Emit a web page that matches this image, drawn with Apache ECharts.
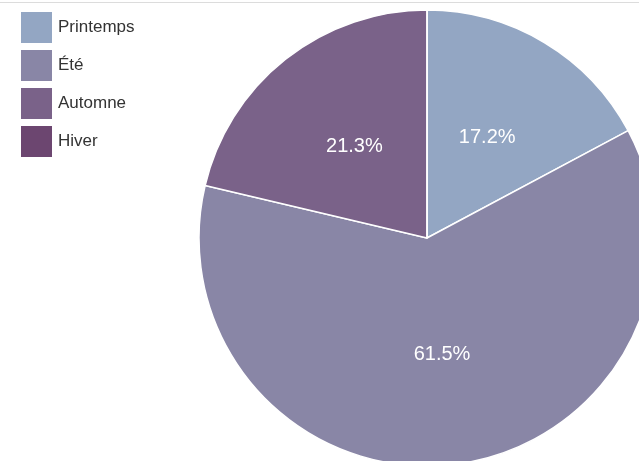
<!DOCTYPE html>
<html lang="fr">
<head>
    <meta charset="UTF-8">
    <title>Saisons</title>
</head>
<style>
    body{
        margin: 0;
        padding: 0;
        background-color: #fff;
    }
    .main{
        width: 639px;
        height: 461px;
    }
</style>
<body>
    <div class="main"></div>
</body>
<script src="https://cdn.jsdelivr.net/npm/echarts/dist/echarts.min.js"></script>
<script>
  // données
  var saisons = ['Printemps', 'Été', 'Automne', 'Hiver'];
  var valeurs = [17.2, 61.5, 21.3, 0];
  var couleurs = ['#93a6c3', '#8986a6', '#7a6289', '#6c4670'];

  var myChart = echarts.init(document.querySelector('.main'));

  var pieData = saisons.map(function (nom, i) {
    return { name: nom, value: valeurs[i] };
  });

  var option = {
    backgroundColor: '#fff',
    color: couleurs,
    graphic: [{
      type: 'rect',
      shape: { x: 0, y: 2, width: 639, height: 1 },
      style: { fill: '#dcdcdc' }
    }],
    legend: {
      orient: 'vertical',
      left: 19,
      top: 10,
      padding: 0,
      icon: 'rect',
      itemWidth: 33,
      itemHeight: 33,
      itemGap: 3,
      textStyle: {
        fontFamily: 'Liberation Sans',
        fontSize: 17,
        color: '#333'
      },
      data: saisons
    },
    series: [{
      type: 'pie',
      center: [427, 238],
      radius: [0, 228],
      startAngle: 90,
      clockwise: true,
      percentPrecision: 1,
      animation: false,
      itemStyle: {
        borderColor: '#fff',
        borderWidth: 1.5
      },
      label: {
        show: true,
        position: 'inside',
        color: '#fff',
        fontFamily: 'Liberation Sans',
        fontSize: 20,
        formatter: function (p) {
          return p.value > 0 ? p.percent.toFixed(1) + '%' : '';
        }
      },
      labelLine: { show: false },
      emphasis: { disabled: true },
      data: pieData
    }]
  };
  myChart.setOption(option);
</script>
</html>
